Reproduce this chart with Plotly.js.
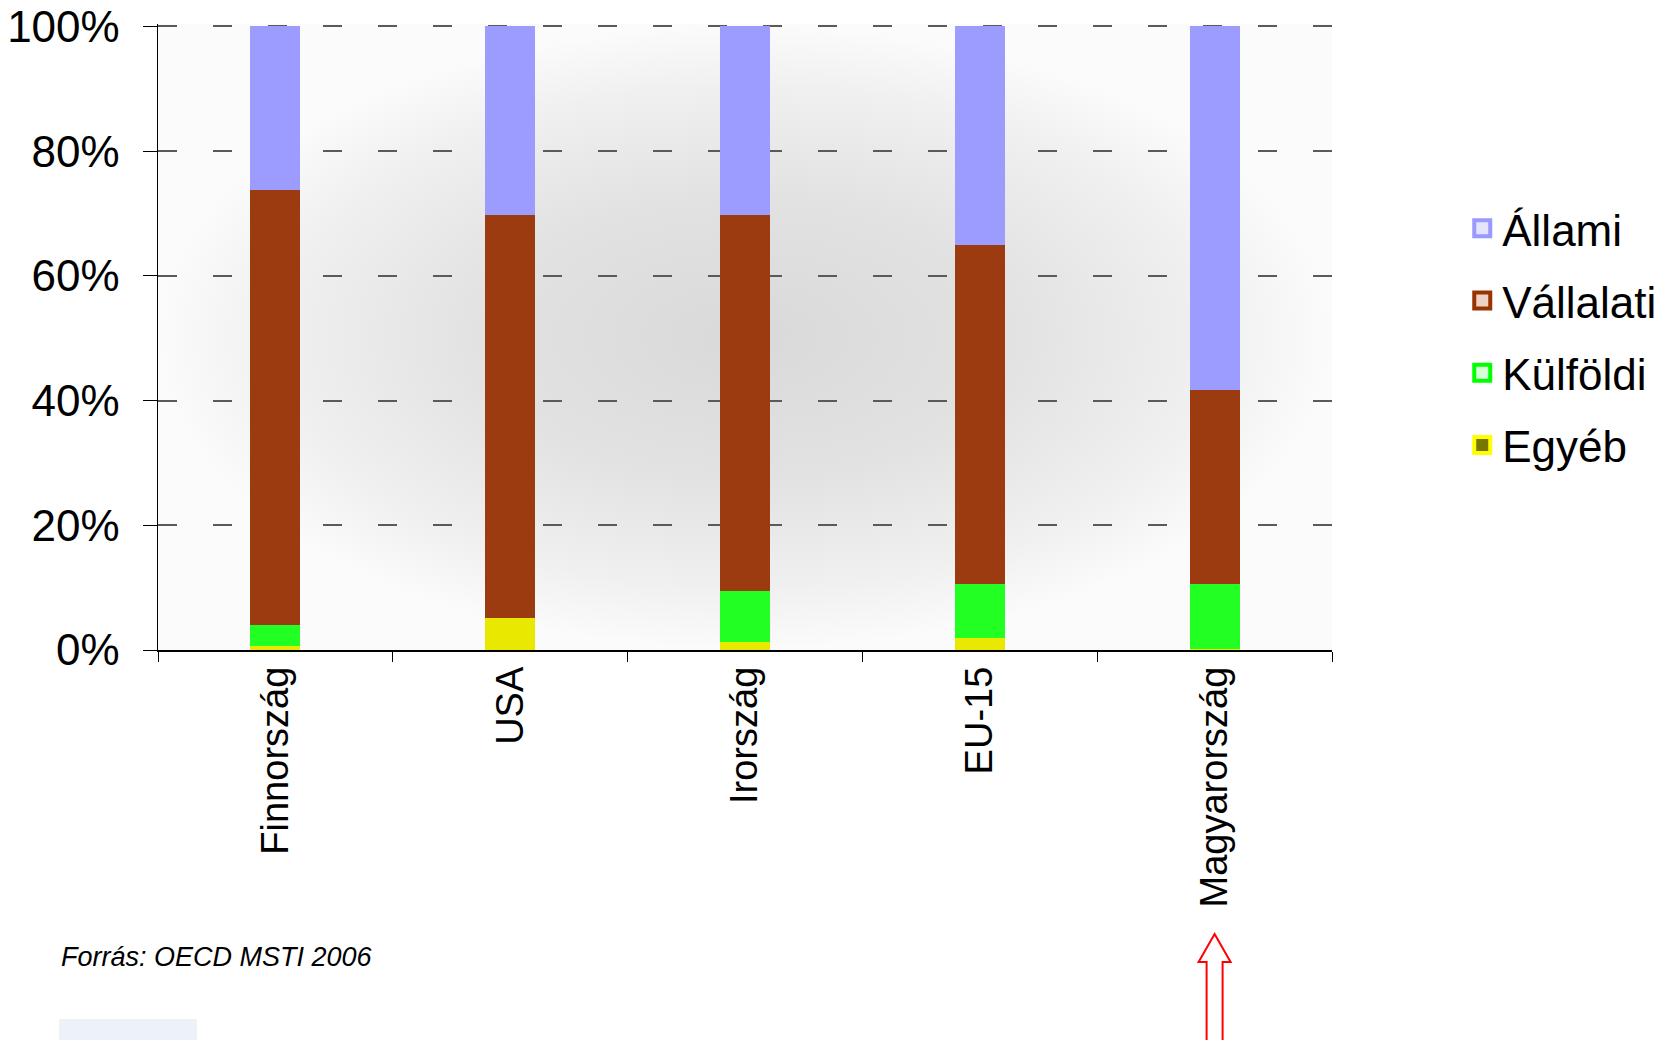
<!DOCTYPE html>
<html>
<head>
<meta charset="utf-8">
<script src="https://cdn.plot.ly/plotly-3.0.1.min.js"></script>
<style>html,body{margin:0;padding:0;background:#fff;}#chart{width:1673px;height:1040px;}</style>
</head>
<body>
<div id="chart"></div>
<script>
// Categories and series (percent shares)
const categories = ['Finnország', 'USA', 'Irország', 'EU-15', 'Magyarország'];
const seriesNames = ['Állami', 'Vállalati', 'Külföldi', 'Egyéb'];
const egyeb     = [0.6, 5.1, 1.3, 1.9, 0.2];
const kulfoldi  = [3.4, 0.0, 8.2, 8.7, 10.4];
const vallalati = [69.7, 64.7, 60.3, 54.3, 31.1];
const allami    = [26.3, 30.2, 30.2, 35.1, 58.3];
const yTickVals = [0, 20, 40, 60, 80, 100];
const yTickText = yTickVals.map(v => v + '%');
const sourceText = 'Forrás: OECD MSTI 2006';
const highlighted = 'Magyarország';

const FONT = 'Liberation Sans, Arial, sans-serif';
const colors = {
  'Állami':   {bar: '#9c9cff', fill: '#e4e4ff', edge: '#9999ff'},
  'Vállalati':{bar: '#9c3a10', fill: '#ecd2c4', edge: '#993300'},
  'Külföldi': {bar: '#22ff22', fill: '#d6ffd6', edge: '#00ff00'},
  'Egyéb':    {bar: '#e8e800', fill: '#777700', edge: '#ffff00'}
};

function barTrace(name, vals) {
  return {
    type: 'bar', name: name, x: categories, y: vals,
    marker: {color: colors[name].bar, line: {width: 0}},
    showlegend: false, hoverinfo: 'skip'
  };
}
const bars = [
  barTrace('Egyéb', egyeb),
  barTrace('Külföldi', kulfoldi),
  barTrace('Vállalati', vallalati),
  barTrace('Állami', allami)
];
const legendTraces = seriesNames.map((n, i) => ({
  type: 'scatter', mode: 'markers', name: n, x: [null], y: [null],
  legendgroup: 'g' + i, showlegend: true, hoverinfo: 'skip',
  marker: {symbol: 'square', size: 16, color: colors[n].fill,
           line: {color: colors[n].edge, width: 4}}
}));

const bgSvg = '<svg xmlns="http://www.w3.org/2000/svg" width="1175" height="626" preserveAspectRatio="none">' +
  '<defs><radialGradient id="g" cx="50%" cy="50%" r="50%">' +
  '<stop offset="0" stop-color="#d9d9d9"/><stop offset="0.45" stop-color="#e2e2e2"/>' +
  '<stop offset="0.8" stop-color="#f0f0f0"/><stop offset="1" stop-color="#fbfbfb"/>' +
  '</radialGradient></defs><rect width="1175" height="626" fill="url(#g)"/></svg>';
const bgUri = 'data:image/svg+xml;charset=utf-8,' + encodeURIComponent(bgSvg);

const hIdx = categories.indexOf(highlighted);

const layout = {
  width: 1673, height: 1040,
  margin: {l: 158, r: 340, t: 24, b: 390},
  paper_bgcolor: '#ffffff', plot_bgcolor: 'rgba(0,0,0,0)',
  barmode: 'stack', bargap: 0.787,
  font: {family: FONT, color: '#000'},
  showlegend: true,
  legend: {
    x: 1.11, xanchor: 'left', y: 0.7296, yanchor: 'top',
    font: {family: FONT, size: 44, color: '#000'},
    bgcolor: 'rgba(0,0,0,0)', borderwidth: 0,
    tracegroupgap: 12, traceorder: 'grouped', itemwidth: 30
  },
  xaxis: {
    type: 'category', range: [-0.5, categories.length - 0.5],
    showline: true, linecolor: '#000', linewidth: 1.5,
    ticks: 'outside', tickson: 'boundaries', ticklen: 10, tickcolor: '#000', tickwidth: 1,
    tickangle: -90, tickfont: {family: FONT, size: 38, color: '#000'},
    showgrid: false, zeroline: false, fixedrange: true
  },
  yaxis: {
    range: [0, 100.4], tickmode: 'array', tickvals: yTickVals, ticktext: yTickText,
    showline: true, linecolor: '#000', linewidth: 1.5,
    ticks: 'outside', ticklen: 14, tickcolor: '#000', tickwidth: 1,
    tickfont: {family: FONT, size: 44, color: '#000'}, ticklabelstandoff: 14,
    showgrid: true, gridcolor: '#5a5a5a', gridwidth: 2, griddash: '19px,36px',
    zeroline: false, fixedrange: true
  },
  images: [{
    source: bgUri, xref: 'paper', yref: 'paper', x: 0, y: 1, sizex: 1, sizey: 1,
    xanchor: 'left', yanchor: 'top', sizing: 'stretch', layer: 'below'
  }],
  shapes: [
    {
      type: 'path', xref: 'x', yref: 'paper', xsizemode: 'pixel', ysizemode: 'pixel',
      xanchor: hIdx, yanchor: 0,
      path: 'M0,-284 L16,-312 L8,-312 L8,-400 L-8,-400 L-8,-312 L-16,-312 Z',
      line: {color: '#ff0000', width: 2}, fillcolor: '#ffffff', layer: 'above'
    },
    {
      type: 'rect', xref: 'paper', yref: 'paper',
      x0: -0.0843, x1: 0.0332, y0: -0.5895, y1: -0.64,
      line: {width: 0}, fillcolor: '#edf1f8', layer: 'below'
    }
  ],
  annotations: [{
    text: '<i>' + sourceText + '</i>', xref: 'paper', yref: 'paper',
    x: -0.0843, y: -0.490, xanchor: 'left', yanchor: 'middle', showarrow: false,
    font: {family: FONT, size: 27, color: '#000'}
  }]
};

Plotly.newPlot('chart', bars.concat(legendTraces), layout, {displayModeBar: false, staticPlot: true});
</script>
</body>
</html>
